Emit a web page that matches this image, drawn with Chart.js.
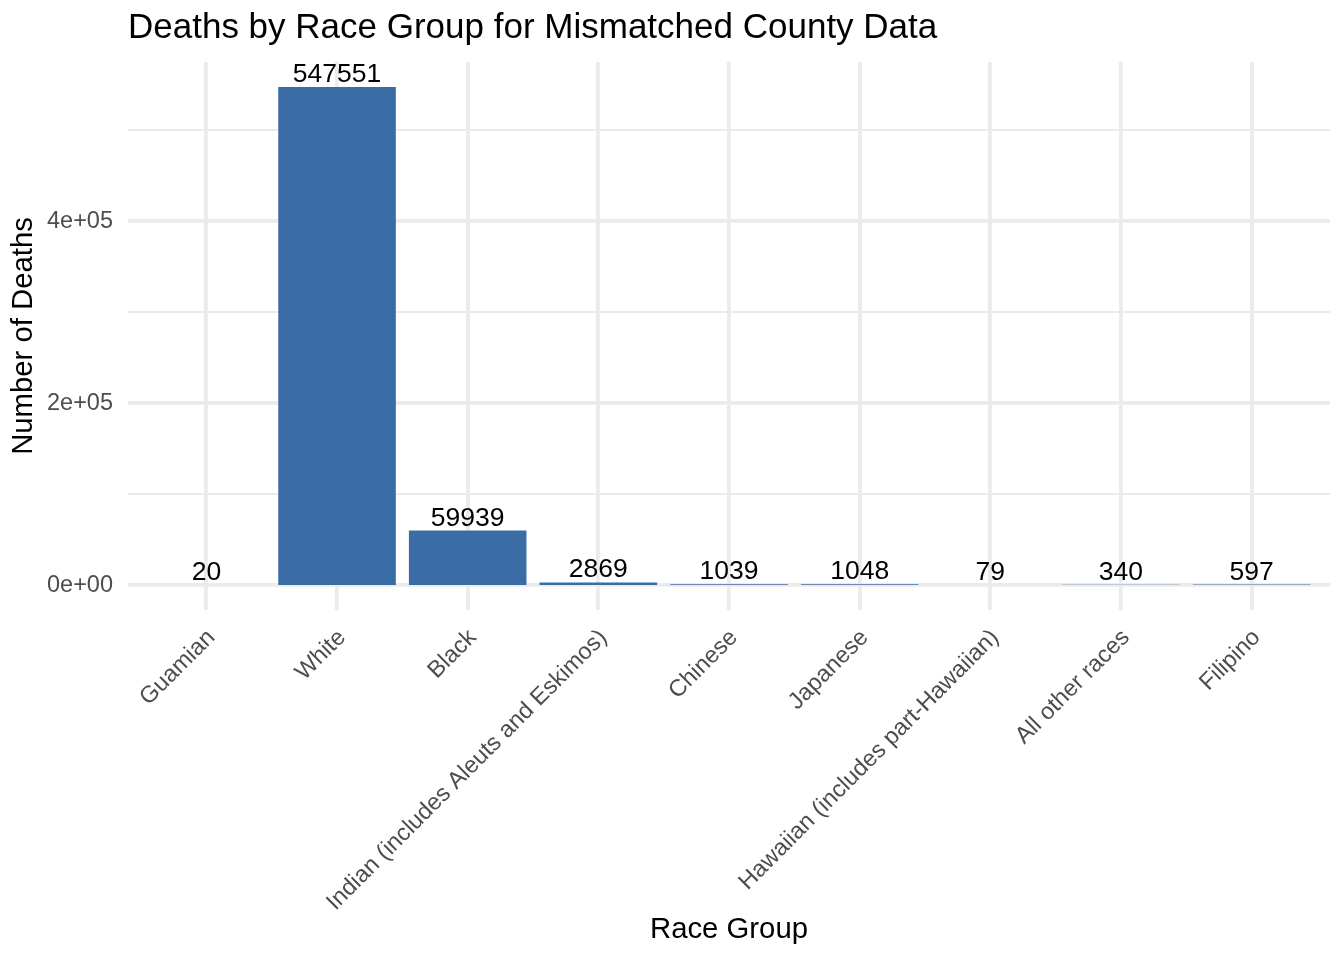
<!DOCTYPE html>
<html>
<head>
<meta charset="utf-8">
<script src="https://cdn.jsdelivr.net/npm/chart.js@4"></script>
<style>
  html, body { margin: 0; padding: 0; background: #ffffff; }
  #wrap { width: 1344px; height: 960px; position: relative; }
</style>
</head>
<body>
<div id="wrap"><canvas id="c"></canvas></div>
<script>
// ---- data ----
const categories = ['Guamian', 'White', 'Black', 'Indian (includes Aleuts and Eskimos)', 'Chinese', 'Japanese', 'Hawaiian (includes part-Hawaiian)', 'All other races', 'Filipino'];
const deaths = [20, 547551, 59939, 2869, 1039, 1048, 79, 340, 597];
const yMajorTicks = [0, 200000, 400000];
const yTickLabels = ['0e+00', '2e+05', '4e+05'];
const yMinorTicks = [100000, 300000, 500000];

const titleText = 'Deaths by Race Group for Mismatched County Data';
const xTitle = 'Race Group';
const yTitle = 'Number of Deaths';

// ---- style ----
const FONT = "'Liberation Sans', Arial, Helvetica, sans-serif";
const BAR = '#3A6DA5';
const GRID = '#EBEBEB';

const maxVal = Math.max(...deaths);
const yPad = maxVal * 0.05;

// tick value nudge so that bars start exactly at 0 (Chart.js otherwise lifts bars off the zero grid line)
const nudge = (v) => (v === 0 ? Number.MIN_VALUE : v);
const isNear = (a, b) => Math.abs(a - b) < 1e-6;

const labelPlugin = {
  id: 'valueLabels',
  afterDatasetsDraw(chart) {
    const ctx = chart.ctx;
    const meta = chart.getDatasetMeta(0);
    ctx.save();
    ctx.font = '26.5px ' + FONT;
    ctx.fillStyle = '#000000';
    ctx.textAlign = 'center';
    ctx.textBaseline = 'alphabetic';
    meta.data.forEach((el, i) => {
      ctx.fillText(String(deaths[i]), el.x, el.y - 5);
    });
    ctx.restore();
  }
};

new Chart(document.getElementById('c'), {
  type: 'bar',
  data: {
    datasets: [{
      data: categories.map((c, i) => ({ x: i, y: deaths[i] })),
      backgroundColor: BAR,
      borderWidth: 0,
      inflateAmount: 0,
      barPercentage: 0.9,
      categoryPercentage: 1.0
    }]
  },
  options: {
    responsive: true,
    maintainAspectRatio: false,
    animation: false,
    devicePixelRatio: 1,
    layout: { padding: { left: 0, right: 14, top: 0, bottom: 0 } },
    plugins: {
      legend: { display: false },
      tooltip: { enabled: false },
      title: {
        display: true,
        text: titleText,
        align: 'start',
        fullSize: false,
        color: '#000000',
        font: { family: FONT, size: 35, weight: 'normal', lineHeight: 1.2 },
        padding: { top: 7, bottom: 13 }
      }
    },
    scales: {
      x: {
        type: 'linear',
        offset: false,
        min: -0.6,
        max: categories.length - 1 + 0.6,
        afterBuildTicks(scale) { scale.ticks = categories.map((c, i) => ({ value: i })); },
        afterFit(scale) { scale.height = 350; },
        border: { display: false },
        grid: { color: GRID, lineWidth: 3.8, drawTicks: false, offset: false },
        ticks: {
          autoSkip: false,
          minRotation: 45,
          maxRotation: 45,
          padding: 14,
          labelOffset: 5,
          color: '#4D4D4D',
          font: { family: FONT, size: 23.5 },
          callback: (v) => categories[v] !== undefined ? categories[v] : ''
        },
        title: {
          display: true,
          text: xTitle,
          color: '#000000',
          font: { family: FONT, size: 29.3, lineHeight: 1 },
          padding: 15
        }
      },
      y: {
        type: 'linear',
        min: -yPad,
        max: maxVal + yPad,
        afterBuildTicks(scale) {
          scale.ticks = [...yMajorTicks, ...yMinorTicks].sort((a, b) => a - b).map(v => ({ value: nudge(v) }));
        },
        afterFit(scale) { scale.width = 128; },
        border: { display: false },
        grid: {
          color: GRID,
          drawTicks: false,
          lineWidth: (ctx) => (ctx.tick && yMajorTicks.some(m => isNear(m, ctx.tick.value))) ? 3.8 : 1.9
        },
        ticks: {
          padding: 15,
          color: '#4D4D4D',
          font: { family: FONT, size: 23.5 },
          callback: (v) => {
            const k = yMajorTicks.findIndex(m => isNear(m, v));
            return k >= 0 ? yTickLabels[k] : '';
          }
        },
        title: {
          display: true,
          text: yTitle,
          color: '#000000',
          font: { family: FONT, size: 29.3, lineHeight: 1 },
          padding: 9
        }
      }
    }
  },
  plugins: [labelPlugin]
});
</script>
</body>
</html>
